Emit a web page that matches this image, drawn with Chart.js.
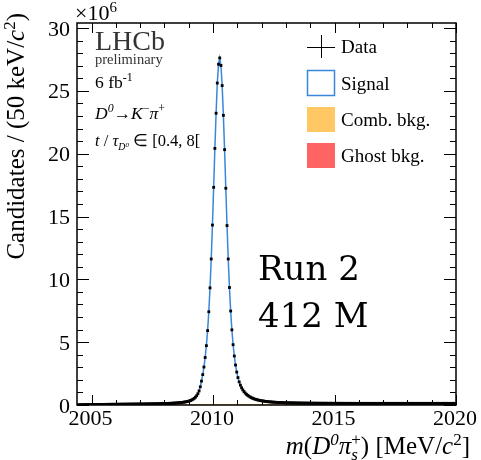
<!DOCTYPE html>
<html>
<head>
<meta charset="utf-8">
<script src="https://cdn.jsdelivr.net/npm/chart.js@4.4.0/dist/chart.umd.min.js"></script>
<style>
  html, body { margin: 0; padding: 0; background: #fff; }
  canvas { display: block; }
</style>
</head>
<body>
<canvas id="chart" width="481" height="460"></canvas>
<script>
// binning of m(D0 pi_s), MeV/c2
const binLow = 2004.4;
const binWidth = 0.05;

// candidates per 50 keV bin, in units of 1e6
const countsLow = [
  0.010, 0.015, 0.019, 0.022, 0.025, 0.027, 0.029, 0.031, 0.033, 0.034, 0.036, 0.037, 0.038, 0.040, 0.041, 0.042, 0.043,
  0.044, 0.045, 0.046, 0.047, 0.048, 0.049, 0.050, 0.051, 0.052, 0.053, 0.054, 0.055, 0.056, 0.057, 0.058, 0.059, 0.060, 0.061, 0.062, 0.063,
  0.064, 0.065, 0.066, 0.067, 0.068, 0.069, 0.070, 0.071, 0.072, 0.073, 0.074, 0.075, 0.076, 0.077, 0.078, 0.079, 0.080, 0.081, 0.082, 0.083,
  0.085, 0.087, 0.089, 0.091, 0.093, 0.095, 0.097, 0.099, 0.101, 0.103, 0.106, 0.109, 0.112, 0.115, 0.118, 0.121, 0.124, 0.127, 0.130, 0.134,
  0.138, 0.143, 0.148, 0.154, 0.160, 0.167, 0.175, 0.184, 0.194, 0.206
];
const countsPeak = [
  0.220, 0.235, 0.250, 0.270, 0.295, 0.325, 0.360, 0.405, 0.460, 0.530, 0.620, 0.740, 0.900, 1.120, 1.450, 1.900,
  2.42, 3.02, 3.78, 4.72, 5.92, 7.42, 9.32, 11.62, 14.32, 17.32, 20.42, 23.22, 25.62, 27.12,
  27.62,
  27.02, 25.42, 23.05, 20.32, 17.25, 14.28, 11.62, 9.35, 7.48, 5.98, 4.80, 3.90, 3.18, 2.62, 2.18, 1.84, 1.58, 1.37, 1.20, 1.06,
  0.950, 0.850, 0.770, 0.700, 0.640, 0.585, 0.540, 0.500, 0.465, 0.435, 0.410, 0.385, 0.365, 0.345, 0.328, 0.312, 0.298, 0.285, 0.273, 0.262
];
const countsHigh = [
  0.252, 0.243, 0.235, 0.228, 0.221, 0.215, 0.209, 0.204, 0.199, 0.195, 0.191, 0.187, 0.184, 0.181, 0.178, 0.175, 0.172, 0.170, 0.168, 0.166,
  0.164, 0.162, 0.160, 0.158, 0.157, 0.155, 0.154, 0.152, 0.151, 0.150, 0.149, 0.148, 0.147, 0.146, 0.145, 0.144, 0.143, 0.142, 0.141, 0.140,
  0.140, 0.139, 0.139, 0.138, 0.138, 0.137, 0.137, 0.136, 0.136, 0.135, 0.135, 0.135, 0.134, 0.134, 0.134, 0.133, 0.133, 0.133, 0.133, 0.132,
  0.132, 0.132, 0.132, 0.131, 0.131, 0.131, 0.131, 0.131, 0.130, 0.130, 0.130, 0.130, 0.130, 0.130, 0.130, 0.130, 0.130, 0.130, 0.130, 0.130,
  0.130, 0.131, 0.130, 0.129, 0.130, 0.130, 0.131, 0.130, 0.129, 0.130,
  0.130, 0.129, 0.130, 0.131, 0.130, 0.130, 0.129, 0.130, 0.130, 0.131,
  0.130, 0.129, 0.130, 0.130, 0.130, 0.131, 0.130, 0.129, 0.130, 0.130,
  0.130, 0.130, 0.131, 0.130, 0.129, 0.130, 0.130, 0.130, 0.131, 0.130,
  0.129, 0.130, 0.130, 0.130, 0.130, 0.131, 0.130, 0.129, 0.130, 0.130,
  0.130, 0.131, 0.130, 0.130, 0.129, 0.130, 0.130, 0.130, 0.131, 0.130,
  0.130, 0.129, 0.130, 0.130, 0.131, 0.130, 0.130, 0.129, 0.130, 0.130,
  0.130, 0.131, 0.130, 0.130
];

// fit components (1e6 / bin)
const combMass = [2004.4, 2005, 2006, 2007, 2008, 2009, 2010, 2012, 2014, 2016, 2018, 2020];
const combCounts = [0, 0.025, 0.040, 0.050, 0.058, 0.064, 0.070, 0.078, 0.084, 0.090, 0.095, 0.100];
const ghostMass = [2004.4, 2010, 2020];
const ghostCounts = [0, 0.004, 0.006];

const xTicks = [2005, 2010, 2015, 2020];
const yTicks = [0, 5, 10, 15, 20, 25, 30];
const legendLabels = ['Data', 'Signal', 'Comb. bkg.', 'Ghost bkg.'];

const counts = countsLow.concat(countsPeak, countsHigh);
const dataPts = counts.map((c, i) => ({ x: binLow + binWidth * (i + 0.5), y: c }));
const toPts = (xs, ys) => xs.map((v, i) => ({ x: v, y: ys[i] }));

const SERIF = '"Liberation Serif", "Times New Roman", serif';
const BLUE = '#3a87d9';
const ORANGE = '#ffc864';
const RED = '#ff6464';

// draw text made of runs: {t, i (italic), sup, sub, s (size factor), dy (em), back (stack on previous run)}
function drawRich(ctx, x, y, parts, size, align) {
  const sizeOf = p => size * (p.s || ((p.sup || p.sub) ? 0.68 : 1));
  const fontOf = p => (p.i ? 'italic ' : '') + sizeOf(p) + 'px ' + SERIF;
  let w = 0, prevStart = 0, prevEnd = 0;
  const pos = parts.map(p => {
    ctx.font = fontOf(p);
    const tw = ctx.measureText(p.t).width;
    const start = p.back ? prevStart : w;
    const end = start + tw;
    w = Math.max(p.back ? prevEnd : w, end);
    prevStart = start; prevEnd = end;
    return start;
  });
  const x0 = align === 'right' ? x - w : (align === 'center' ? x - w / 2 : x);
  parts.forEach((p, i) => {
    ctx.font = fontOf(p);
    let dy = p.sup ? -size * 0.38 : (p.sub ? size * 0.22 : 0);
    if (p.dy !== undefined) dy = p.dy * size;
    ctx.textAlign = 'left';
    ctx.fillText(p.t, x0 + pos[i], y + dy);
  });
}

const decor = {
  id: 'decor',
  afterDraw(chart) {
    const { ctx, chartArea: a, scales: { x, y } } = chart;
    ctx.save();
    ctx.fillStyle = '#000';
    ctx.strokeStyle = '#000';

    // ticks, inward on all four sides
    ctx.lineWidth = 1;
    ctx.beginPath();
    for (let v = xTicks[0]; v <= xTicks[xTicks.length - 1]; v++) {
      const px = Math.round(x.getPixelForValue(v)) + 0.5;
      const len = xTicks.includes(v) ? 10 : 5;
      ctx.moveTo(px, a.bottom); ctx.lineTo(px, a.bottom - len);
      ctx.moveTo(px, a.top); ctx.lineTo(px, a.top + len);
    }
    for (let v = yTicks[0]; v <= yTicks[yTicks.length - 1]; v++) {
      const py = Math.round(y.getPixelForValue(v)) + 0.5;
      const len = yTicks.includes(v) ? 12 : 6;
      ctx.moveTo(a.left, py); ctx.lineTo(a.left + len, py);
      ctx.moveTo(a.right, py); ctx.lineTo(a.right - len, py);
    }
    ctx.stroke();
    ctx.lineWidth = 1.5;
    ctx.strokeRect(a.left, a.top, a.right - a.left, a.bottom - a.top);

    // tick labels
    ctx.font = '22px ' + SERIF;
    ctx.textAlign = 'right';
    yTicks.forEach(v => ctx.fillText(String(v), 70, y.getPixelForValue(v) + 7.5));
    ctx.textAlign = 'center';
    xTicks.forEach(v => ctx.fillText(String(v), x.getPixelForValue(v) - 1, 425));
    drawRich(ctx, 75, 20, [{ t: '\u00d710' }, { t: '6', sup: 1 }], 22, 'left');

    // axis titles
    drawRich(ctx, 470, 454, [
      { t: 'm', i: 1 }, { t: '(' }, { t: 'D', i: 1 }, { t: '0', i: 1, sup: 1 }, { t: '\u03c0', i: 1 },
      { t: '+', sup: 1 }, { t: 's', i: 1, sub: 1, back: 1 }, { t: ') [MeV/' }, { t: 'c', i: 1 },
      { t: '2', sup: 1 }, { t: ']' }
    ], 25, 'right');
    ctx.save();
    ctx.translate(24, 13);
    ctx.rotate(-Math.PI / 2);
    drawRich(ctx, 0, 0, [{ t: 'Candidates / (50 keV/' }, { t: 'c', i: 1 }, { t: '2', sup: 1 }, { t: ')' }], 25, 'right');
    ctx.restore();

    // LHCb block
    ctx.textAlign = 'left';
    ctx.fillStyle = '#333';
    ctx.font = '28px ' + SERIF;
    ctx.fillText('LHCb', 95, 50);
    ctx.font = '14.5px ' + SERIF;
    ctx.fillText('preliminary', 95, 64);
    ctx.fillStyle = '#000';
    drawRich(ctx, 95, 88, [{ t: '6 fb' }, { t: '-1', sup: 1 }], 17.5, 'left');
    drawRich(ctx, 95, 119, [
      { t: 'D', i: 1 }, { t: '0', i: 1, sup: 1 }, { t: '\u2192' }, { t: 'K', i: 1 }, { t: '\u2212', sup: 1 },
      { t: '\u03c0', i: 1 }, { t: '+', sup: 1 }
    ], 17.5, 'left');
    drawRich(ctx, 95, 146, [
      { t: 't', i: 1 }, { t: ' / ' }, { t: '\u03c4', i: 1 }, { t: 'D', i: 1, s: 0.6, dy: 0.25 },
      { t: '0', i: 1, s: 0.42, dy: 0.05 }, { t: ' \u2208 [0.4, 8[' }
    ], 16.5, 'left');

    // Run 2 label
    ctx.font = '34px "DejaVu Serif", serif';
    ctx.fillText('Run 2', 258, 280);
    ctx.fillText('412 M', 258, 327);

    // legend
    const ly = [46.7, 83, 119, 155.5];
    ctx.lineWidth = 1;
    ctx.beginPath();
    ctx.moveTo(307, 47.5); ctx.lineTo(335, 47.5);
    ctx.moveTo(321.5, 35); ctx.lineTo(321.5, 58);
    ctx.stroke();
    ctx.strokeStyle = BLUE; ctx.lineWidth = 1.5;
    ctx.strokeRect(307.5, 70.5, 27, 25);
    ctx.fillStyle = ORANGE; ctx.fillRect(307, 107, 28, 25);
    ctx.fillStyle = RED; ctx.fillRect(307, 143, 28, 25);
    ctx.fillStyle = '#000';
    ctx.font = '19px ' + SERIF;
    legendLabels.forEach((l, i) => ctx.fillText(l, 341, ly[i] + 6.5));
    ctx.restore();
  }
};

new Chart(document.getElementById('chart'), {
  type: 'line',
  data: {
    datasets: [
      { label: 'Data', data: dataPts, showLine: false, pointStyle: 'rect', pointRadius: 2,
        pointBackgroundColor: '#000', pointBorderWidth: 0, order: 0 },
      { label: 'Signal', data: dataPts, borderColor: BLUE, borderWidth: 1.5, pointRadius: 0, fill: false, order: 1 },
      { label: 'Comb. bkg.', data: toPts(combMass, combCounts), borderWidth: 0, pointRadius: 0,
        backgroundColor: ORANGE, fill: 'origin', tension: 0.3, order: 2 },
      { label: 'Ghost bkg.', data: toPts(ghostMass, ghostCounts), borderWidth: 0, pointRadius: 0,
        backgroundColor: RED, fill: 'origin', order: 3 }
    ]
  },
  options: {
    responsive: false,
    animation: false,
    devicePixelRatio: 1,
    layout: { padding: { left: 77, right: 25, top: 23, bottom: 55 } },
    plugins: { legend: { display: false }, tooltip: { enabled: false } },
    scales: {
      x: { type: 'linear', min: 2004.4, max: 2020, display: false },
      y: { min: 0, max: 30.4, display: false }
    }
  },
  plugins: [decor]
});
</script>
</body>
</html>
